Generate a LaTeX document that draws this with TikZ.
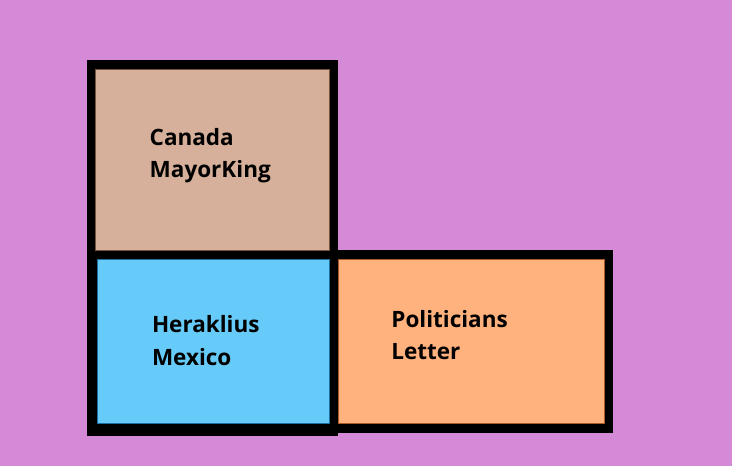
\documentclass[tikz,border=0pt]{standalone}
\usepackage{fontspec}
\setmainfont{Open Sans}
\definecolor{bgpurple}{RGB}{212,138,214}
\definecolor{boxtan}{RGB}{214,176,154}
\definecolor{boxblue}{RGB}{102,203,248}
\definecolor{boxorange}{RGB}{255,178,126}
\definecolor{edgetan}{RGB}{120,80,60}
\definecolor{edgeblue}{RGB}{30,110,160}
\definecolor{edgeorange}{RGB}{170,90,40}
\tikzset{
  cell/.style={rectangle, anchor=north west, inner sep=0pt, outer sep=0pt, line width=0.8pt},
  celltext/.style={anchor=base west, align=left, inner sep=0pt, font=\fontsize{22.5}{32.5}\selectfont\bfseries, text=black}
}
\begin{document}
\begin{tikzpicture}[x=1pt,y=-1pt]
\useasboundingbox (0,0) rectangle (732,466);
\fill[bgpurple] (0,0) rectangle (732,466);
% black frames
\fill[black] (86.7,60) rectangle (338.3,259);
\fill[black] (86.7,250) rectangle (338.3,436);
\fill[black] (329.3,250) rectangle (613.3,432.7);
% cells
\node[cell, fill=boxtan, draw=edgetan, minimum width=233.6pt, minimum height=180.7pt] (canada) at (95.7,69.3) {};
\node[cell, fill=boxblue, draw=edgeblue, minimum width=232pt, minimum height=164pt] (mexico) at (97.3,259.3) {};
\node[cell, fill=boxorange, draw=edgeorange, minimum width=266pt, minimum height=164pt] (letter) at (338.3,259.3) {};
% labels (anchor is baseline of last line)
\node[celltext] (t1) at (149.5,177.5) {Canada\\MayorKing};
\node[celltext] (t2) at (151.8,365.2) {Heraklius\\Mexico};
\node[celltext] (t3) at (391.2,359.8) {Politicians\\Letter};
\end{tikzpicture}
\end{document}
